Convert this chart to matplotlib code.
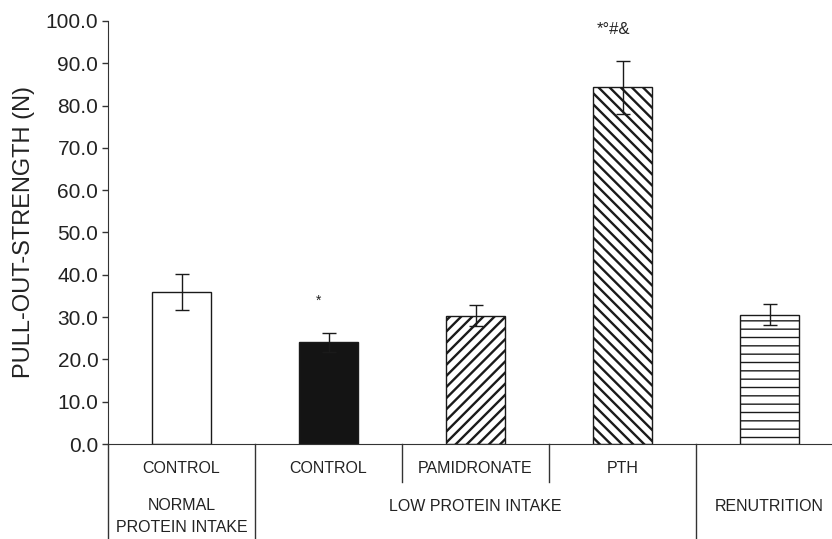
import numpy as np
import matplotlib
matplotlib.use("Agg")
import matplotlib.pyplot as plt

plt.rcParams.update({"font.family": ["Liberation Sans", "DejaVu Sans"], "hatch.linewidth": 1.7,
                     "hatch.color": "#111111"})

# values
groups = ["CONTROL", "CONTROL", "PAMIDRONATE", "PTH", ""]
means = [35.9, 24.0, 30.3, 84.3, 30.6]
errs = [4.2, 2.3, 2.5, 6.2, 2.4]
signif = ["", "*", "", "*°#&", ""]
diets = [("NORMAL\nPROTEIN INTAKE", 0), ("LOW PROTEIN INTAKE", 2), ("RENUTRITION", 4)]

faces = ["white", "#141414", "white", "white", "white"]
hatches = [None, None, "///", "\\\\\\", "--"]
hatch_lw = [None, None, 1.7, 1.7, 1.0]

fig = plt.figure(figsize=(8.32, 5.39), dpi=100)
ax = fig.add_axes([108/832, 95/539, 724/832, 423/539])

x = np.arange(len(means))
bars = ax.bar(x, means, width=0.405, color=faces, edgecolor="#1a1a1a", lw=1.0, zorder=2)
for b, h, hl in zip(bars, hatches, hatch_lw):
    if h:
        b.set_hatch(h)
        try:
            b.set_hatch_linewidth(hl)
        except AttributeError:
            pass
ax.errorbar(x, means, yerr=errs, fmt="none", ecolor="#1a1a1a", elinewidth=1.0,
            capsize=5, capthick=1.0, zorder=3)

for xi, m, e, s in zip(x, means, errs, signif):
    if s:
        ax.text(xi - 0.07 if len(s) == 1 else xi - 0.06, m + e + 7.6, s, ha="center", va="center",
                fontsize=12 if len(s) > 1 else 10, color="#222222")

ax.set_xlim(-0.5, 4.425)
ax.set_ylim(0, 100)
ax.set_yticks(np.arange(0, 101, 10))
ax.set_yticklabels([f"{v:.1f}" for v in np.arange(0, 101, 10)], fontsize=15, color="#222222")
ax.set_xticks([])
ax.tick_params(axis="y", direction="out", length=4, width=1.0, pad=3, color="#333333")
ax.spines["top"].set_visible(False)
ax.spines["right"].set_visible(False)
ax.spines["left"].set_color("#333333")
ax.spines["bottom"].set_color("#333333")
ax.set_ylabel("PULL-OUT-STRENGTH (N)", fontsize=17, color="#222222", labelpad=8)

tr = ax.get_xaxis_transform()
for xi, g in zip(x, groups):
    if g:
        ax.text(xi, -0.059, g, transform=tr, ha="center", va="center", fontsize=11.5, color="#222222")
for name, xi in diets:
    ax.text(xi, -0.172 if "\n" in name else -0.147, name, transform=tr, ha="center", va="center",
            fontsize=11.5, color="#222222", linespacing=1.55)

# group separators below the axis
for sx, low in [(-0.5, -0.2246), (0.5, -0.2246), (1.5, -0.089), (2.5, -0.089), (3.5, -0.2246)]:
    ax.plot([sx, sx], [0, low], transform=tr, color="#333333", lw=1.0, clip_on=False)

fig.savefig("out.png", dpi=100)
